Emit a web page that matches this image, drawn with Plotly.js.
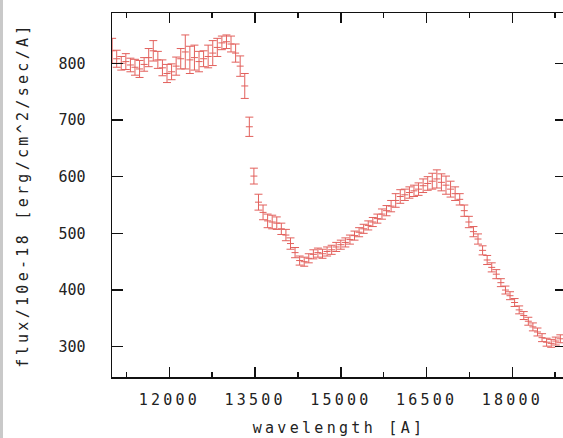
<!DOCTYPE html>
<html>
<head>
<meta charset="utf-8">
<script src="https://cdn.plot.ly/plotly-3.0.1.min.js"></script>
<style>
  html, body { margin: 0; padding: 0; background: #ffffff; overflow: hidden; }
  #strip { position: absolute; left: 0; top: 0; width: 3px; height: 438px; background: #c9c9c9; z-index: 5; }
  #chart { position: absolute; left: 0; top: 0; width: 566px; height: 438px; }
  .xtick text { letter-spacing: 3.2px; }
  text.xtitle, text.ytitle { letter-spacing: 3.3px; }
</style>
</head>
<body>
<div id="strip"></div>
<div id="chart"></div>
<script>
// wavelength [A]
const wavelength = [
  11000, 11080, 11160, 11240, 11320, 11400, 11480, 11560, 11640, 11720,
  11800, 11880, 11960, 12040, 12120, 12200, 12280, 12360, 12440, 12520,
  12600, 12680, 12760, 12840, 12920, 13000, 13080, 13160, 13240, 13320,
  13400, 13480, 13560, 13640, 13720, 13800, 13880, 13960, 14040, 14120,
  14200, 14280, 14360, 14440, 14520, 14600, 14680, 14760, 14840, 14920,
  15000, 15080, 15160, 15240, 15320, 15400, 15480, 15560, 15640, 15720,
  15800, 15880, 15960, 16040, 16120, 16200, 16280, 16360, 16440, 16520,
  16600, 16680, 16760, 16840, 16920, 17000, 17080, 17160, 17240, 17320,
  17400, 17480, 17560, 17640, 17720, 17800, 17880, 17960, 18040, 18120,
  18200, 18280, 18360, 18440, 18520, 18600, 18680, 18760, 18840
];
// flux/10e-18 [erg/cm^2/sec/A]
const flux = [
  822, 808, 800, 803, 797, 793, 790, 798, 810, 822,
  806, 792, 782, 785, 795, 808, 820, 806, 810, 803,
  808, 812, 818, 828, 836, 838, 834, 818, 795, 760,
  688, 601, 555, 537, 522, 520, 518, 508, 497, 482,
  466, 452, 450, 456, 463, 466, 464, 468, 471, 476,
  480, 484, 489, 496, 502, 508, 514, 520, 526, 534,
  540, 548, 558, 565, 568, 572, 575, 578, 584, 588,
  592, 596, 590, 585, 578, 570, 560, 540, 520, 503,
  490, 470, 453, 440, 428, 413, 400, 390, 378, 365,
  355, 345, 335, 326, 316, 308, 306, 310, 314
];
// error (half-size)
const fluxErr = [
  22, 15, 12, 14, 12, 14, 15, 12, 16, 18,
  15, 14, 16, 14, 16, 18, 30, 24, 22, 18,
  14, 20, 22, 16, 12, 12, 14, 16, 18, 22,
  17, 14, 14, 13, 12, 12, 11, 10, 10, 10,
  9, 8, 8, 8, 8, 8, 8, 8, 8, 8,
  8, 8, 8, 8, 8, 8, 8, 8, 8, 9,
  9, 10, 12, 12, 10, 10, 10, 11, 12, 12,
  14, 16, 15, 16, 14, 12, 10, 10, 10, 9,
  9, 8, 8, 8, 8, 7, 7, 7, 7, 7,
  7, 7, 7, 7, 7, 7, 7, 7, 7
];
const xTickVals = [12000, 13500, 15000, 16500, 18000];
const xTickText = ['12000', '13500', '15000', '16500', '18000'];
const yTickVals = [300, 400, 500, 600, 700, 800];
const yTickText = ['300', '400', '500', '600', '700', '800'];

const col = '#e2605c';
const fontFam = '"DejaVu Sans Mono", "Liberation Mono", monospace';

const trace = {
  type: 'scatter',
  mode: 'markers',
  x: wavelength,
  y: flux,
  marker: { symbol: 'line-ew-open', size: 5, color: col, line: { color: col, width: 1 } },
  error_y: { type: 'data', array: fluxErr, visible: true, color: col, thickness: 1, width: 4 },
  cliponaxis: true,
  hoverinfo: 'x+y'
};

const layout = {
  width: 566,
  height: 438,
  margin: { l: 112, r: 0, t: 13, b: 61, pad: 0 },
  paper_bgcolor: '#ffffff',
  plot_bgcolor: '#ffffff',
  showlegend: false,
  font: { family: fontFam, size: 15, color: '#222222' },
  xaxis: {
    range: [10998, 18939],
    tickmode: 'array',
    tickvals: xTickVals,
    ticktext: xTickText,
    ticks: 'inside',
    ticklen: 10,
    tickwidth: 1.5,
    tickcolor: '#111111',
    minor: { tickmode: 'linear', tick0: 11250, dtick: 1500, ticks: 'inside', ticklen: 5, tickwidth: 1.5, tickcolor: '#111111', showgrid: false },
    showline: true,
    linecolor: '#111111',
    linewidth: 1.5,
    mirror: 'ticks',
    showgrid: false,
    zeroline: false,
    ticklabelstandoff: 8,
    tickfont: { family: fontFam, size: 15, color: '#222222' },
    title: { text: 'wavelength [A]', font: { family: fontFam, size: 15, color: '#222222' }, standoff: 15 }
  },
  yaxis: {
    range: [246.6, 888.7],
    tickmode: 'array',
    tickvals: yTickVals,
    ticktext: yTickText,
    ticks: 'inside',
    ticklen: 11,
    tickwidth: 1.5,
    tickcolor: '#111111',
    showline: true,
    linecolor: '#111111',
    linewidth: 1.5,
    mirror: 'ticks',
    showgrid: false,
    zeroline: false,
    ticklabelstandoff: 22,
    tickfont: { family: fontFam, size: 15, color: '#222222' },
    title: { text: 'flux/10e-18 [erg/cm^2/sec/A]', font: { family: fontFam, size: 15, color: '#222222' }, standoff: 26 }
  }
};

Plotly.newPlot('chart', [trace], layout, { staticPlot: true, displayModeBar: false });
</script>
</body>
</html>
